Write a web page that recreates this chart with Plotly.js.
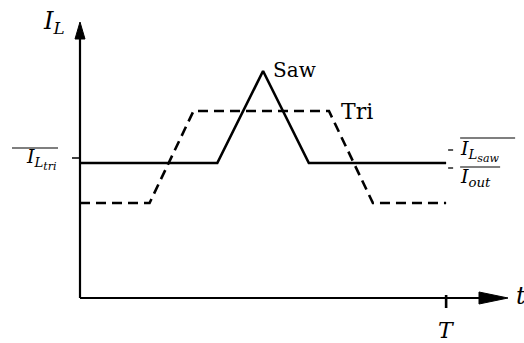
<!DOCTYPE html>
<html>
<head>
<meta charset="utf-8">
<script src="https://cdn.plot.ly/plotly-3.0.1.min.js"></script>
<style>
  html, body { margin: 0; padding: 0; background: #fff; }
  #chart { width: 524px; height: 343px; }
</style>
</head>
<body>
<div id="chart"></div>
<script>
// Inductor current over one period T for the two modulation schemes
const T = 1;
const sawT = [0, 0.375, 0.5, 0.625, T];
const sawI = [1.35, 1.35, 2.27, 1.35, 1.35];
const triT = [0, 0.19, 0.31, 0.68, 0.80, T];
const triI = [0.95, 0.95, 1.87, 1.87, 0.95, 0.95];

// Average-current levels marked on the axes
const avgTri = 1.40;
const avgSaw = 1.48;
const avgOut = 1.30;

const xMax = 1.169;
const yMax = 2.76;
const serif = 'DejaVu Serif, Liberation Serif, serif';

// plot-area geometry (px) used to place decorations in paper units
const M = { l: 80, r: 16, t: 22, b: 45 };
const W = 524 - M.l - M.r, H = 343 - M.t - M.b;
const px = d => d / W;           // pixel length -> paper x
const py = d => d / H;           // pixel length -> paper y
const xp = v => v / xMax;        // data x -> paper x
const yp = v => v / yMax;        // data y -> paper y

const traces = [
  { x: sawT, y: sawI, mode: 'lines', line: { color: '#000', width: 2.6 }, hoverinfo: 'skip' },
  { x: triT, y: triI, mode: 'lines', line: { color: '#000', width: 2.6, dash: '10px,6px' }, hoverinfo: 'skip' }
];

const line = (x0, y0, x1, y1, w) => ({ type: 'line', xref: 'paper', yref: 'paper', x0, y0, x1, y1,
  line: { color: '#000', width: w } });

const shapes = [
  // axes
  line(0, 0, 1 - px(20), 0, 2.2),
  line(0, 0, 0, 1 - py(10), 2.2),
  // arrowheads
  { type: 'path', xref: 'paper', yref: 'paper', fillcolor: '#000', line: { color: '#000', width: 1 },
    path: `M1,0 L${1 - px(29)},${py(6)} L${1 - px(29)},${-py(6)} Z` },
  { type: 'path', xref: 'paper', yref: 'paper', fillcolor: '#000', line: { color: '#000', width: 1 },
    path: `M0,1 L${-px(5)},${1 - py(17)} L${px(5)},${1 - py(17)} Z` },
  // tick at T
  line(xp(T), py(3), xp(T), -py(10), 2.6),
  // tick for the tri average on the current axis
  line(-px(8), yp(avgTri), 0, yp(avgTri), 1.5),
  // ticks for the saw and output averages at T
  line(xp(T) + px(2), yp(avgSaw), xp(T) + px(7), yp(avgSaw), 1.3),
  line(xp(T) + px(2), yp(avgOut), xp(T) + px(7), yp(avgOut), 1.3),
  // overbars of the average labels
  line(-px(68), yp(avgTri) + py(10), -px(22), yp(avgTri) + py(10), 1.2),
  line(xp(T) + px(14), yp(avgSaw) + py(12), xp(T) + px(69), yp(avgSaw) + py(12), 1.2),
  line(xp(T) + px(14), yp(avgOut) + py(1), xp(T) + px(54), yp(avgOut) + py(1), 1.2)
];

const ann = (x, y, text, size, xanchor, yanchor, xshift, yshift) => ({
  x, y, xref: 'paper', yref: 'paper', text, xanchor, yanchor, xshift, yshift,
  showarrow: false, font: { family: serif, size, color: '#000' } });

const sub2 = s => '<sub><span style="font-size:11px"><i>' + s + '</i></span></sub>';

const annotations = [
  ann(0, 1, '<i>I</i><sub><i>L</i></sub>', 24, 'right', 'middle', -13, 0),
  ann(1, 0, '<i>t</i>', 24, 'left', 'middle', 6, 2),
  ann(xp(T), 0, '<i>T</i>', 22, 'center', 'top', 0, -18),
  ann(xp(0.5), yp(2.27), 'Saw', 20, 'left', 'middle', 8, 1),
  ann(xp(0.68), yp(1.87), 'Tri', 22, 'left', 'middle', 10, -1),
  ann(0, yp(avgTri), '<i>I</i><sub><i>L</i>' + sub2('tri') + '</sub>', 19, 'right', 'middle', -21, -1),
  ann(xp(T), yp(avgSaw), '<i>I</i><sub><i>L</i>' + sub2('saw') + '</sub>', 19, 'left', 'middle', 12, -1),
  ann(xp(T), yp(avgOut), '<i>I</i><sub><i>out</i></sub>', 19, 'left', 'middle', 12, -10)
];

const layout = {
  width: 524, height: 343,
  margin: M,
  paper_bgcolor: '#fff', plot_bgcolor: '#fff',
  showlegend: false,
  xaxis: { range: [0, xMax], visible: false, fixedrange: true },
  yaxis: { range: [0, yMax], visible: false, fixedrange: true },
  shapes: shapes,
  annotations: annotations
};

Plotly.newPlot('chart', traces, layout, { staticPlot: true, displayModeBar: false });
</script>
</body>
</html>
